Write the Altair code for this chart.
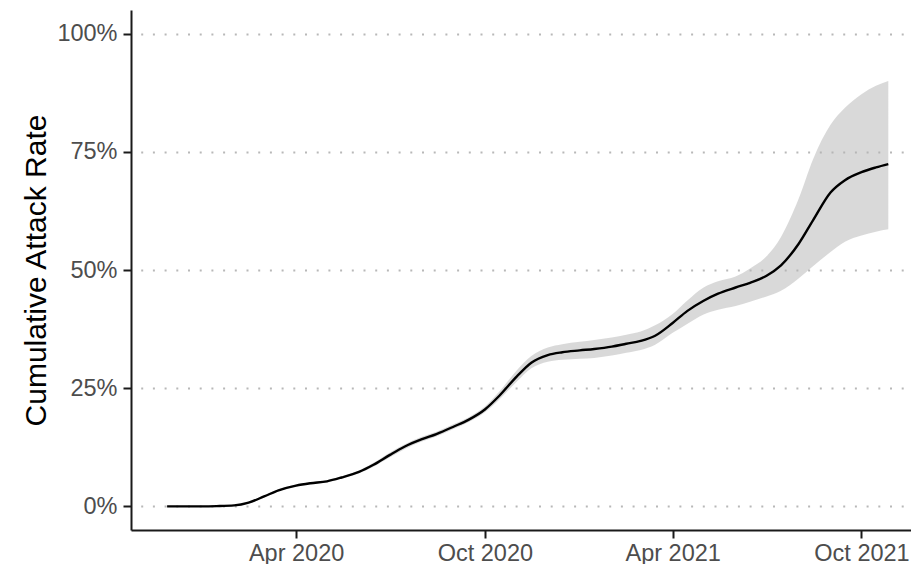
import altair as alt
import pandas as pd

# ---- data ----
dates = [
    "2019-11-28", "2019-12-15", "2020-01-01", "2020-01-15", "2020-02-01", "2020-02-15",
    "2020-03-01", "2020-03-15", "2020-04-01", "2020-04-15", "2020-05-01", "2020-05-15",
    "2020-06-01", "2020-06-15", "2020-07-01", "2020-07-15", "2020-08-01", "2020-08-15",
    "2020-09-01", "2020-09-15", "2020-10-01", "2020-10-15", "2020-11-01", "2020-11-15",
    "2020-12-01", "2020-12-15", "2021-01-01", "2021-01-15", "2021-02-01", "2021-02-15",
    "2021-03-01", "2021-03-15", "2021-04-01", "2021-04-15", "2021-05-01", "2021-05-15",
    "2021-06-01", "2021-06-15", "2021-07-01", "2021-07-15", "2021-08-01", "2021-08-15",
    "2021-09-01", "2021-09-15", "2021-10-01", "2021-10-15", "2021-10-27",
]
mean_pct = [
    0.0, 0.0, 0.0, 0.05, 0.2, 0.8,
    2.1, 3.4, 4.4, 4.9, 5.3, 6.1,
    7.3, 8.8, 10.9, 12.6, 14.2, 15.3,
    16.9, 18.3, 20.5, 23.4, 27.5, 30.4,
    32.0, 32.6, 33.0, 33.3, 33.8, 34.4,
    35.0, 36.1, 38.8, 41.3, 43.5, 45.0,
    46.3, 47.3, 48.8, 51.0, 55.5, 60.5,
    66.4, 69.0, 70.7, 71.7, 72.4,
]
lower_pct = [
    0.0, 0.0, 0.0, 0.0, 0.1, 0.6,
    1.9, 3.2, 4.2, 4.7, 5.1, 5.9,
    7.0, 8.4, 10.4, 12.1, 13.7, 14.8,
    16.4, 17.8, 19.9, 22.6, 26.4, 29.2,
    30.6, 31.0, 31.2, 31.4, 31.9, 32.5,
    33.1, 34.2, 36.7, 38.6, 40.6, 41.6,
    42.4, 43.3, 44.4, 45.6, 48.2, 50.8,
    53.8, 56.0, 57.3, 58.1, 58.6,
]
upper_pct = [
    0.0, 0.0, 0.0, 0.1, 0.3, 1.0,
    2.3, 3.6, 4.6, 5.1, 5.5, 6.3,
    7.6, 9.2, 11.4, 13.1, 14.7, 15.8,
    17.4, 18.8, 21.1, 24.3, 28.8, 31.8,
    33.6, 34.3, 34.8, 35.2, 35.7, 36.3,
    37.0, 38.3, 40.7, 43.5, 46.3, 47.6,
    48.6, 50.3, 52.9, 57.0, 65.0, 73.4,
    80.7, 84.3, 87.2, 89.0, 90.0,
]
x_tick_dates = ["2020-04-01", "2020-10-01", "2021-04-01", "2021-10-01"]
y_ticks = [0, 0.25, 0.5, 0.75, 1.0]
y_title = "Cumulative Attack Rate"

df = pd.DataFrame({
    "date": [d + "T00:00:00" for d in dates],
    "mean": [v / 100 for v in mean_pct],
    "lo": [v / 100 for v in lower_pct],
    "hi": [v / 100 for v in upper_pct],
})

x_domain = [alt.DateTime(year=2019, month=10, date=24),
            alt.DateTime(year=2021, month=11, date=18)]
x_values = [alt.DateTime(year=int(d[:4]), month=int(d[5:7]), date=int(d[8:10]))
            for d in x_tick_dates]

x_enc = alt.X(
    "date:T",
    scale=alt.Scale(domain=x_domain, nice=False),
    axis=alt.Axis(values=x_values, format="%b %Y", title=None, grid=False,
                  labelPadding=3),
)
y_scale = alt.Scale(domain=[-0.05, 1.05], nice=False, zero=False)
y_axis = alt.Axis(values=y_ticks, format=".0%", title=y_title, grid=True,
                  gridColor="#b8b8b8", gridWidth=2.2, gridDash=[2, 9.7],
                  gridDashOffset=2, labelPadding=6,
                  titleX=-86, titleBaseline="alphabetic")

band = alt.Chart(df).mark_area(color="#b3b3b3", opacity=0.5, interpolate="monotone").encode(
    x=x_enc,
    y=alt.Y("lo:Q", scale=y_scale, axis=y_axis, title=y_title),
    y2="hi:Q",
)
line = alt.Chart(df).mark_line(color="black", strokeWidth=2.4, interpolate="monotone").encode(
    x=x_enc,
    y=alt.Y("mean:Q", scale=y_scale, title=y_title),
)

chart = (
    alt.layer(band, line)
    .properties(
        width=780, height=520,
        autosize=alt.AutoSizeParams(type="none"),
        padding={"left": 123, "top": 2, "right": 0, "bottom": 34},
    )
    .configure_view(stroke=None)
    .configure_axis(
        domainColor="#1a1a1a", domainWidth=2,
        tickColor="#1a1a1a", tickWidth=2, tickSize=8,
        labelColor="#4d4d4d", labelFontSize=23.5, labelFont="Liberation Sans",
        titleFont="Liberation Sans", titleFontSize=30, titleFontWeight="normal",
        titleColor="black",
    )
)

chart.save("out.html", embed_options={"renderer": "svg", "actions": False})
